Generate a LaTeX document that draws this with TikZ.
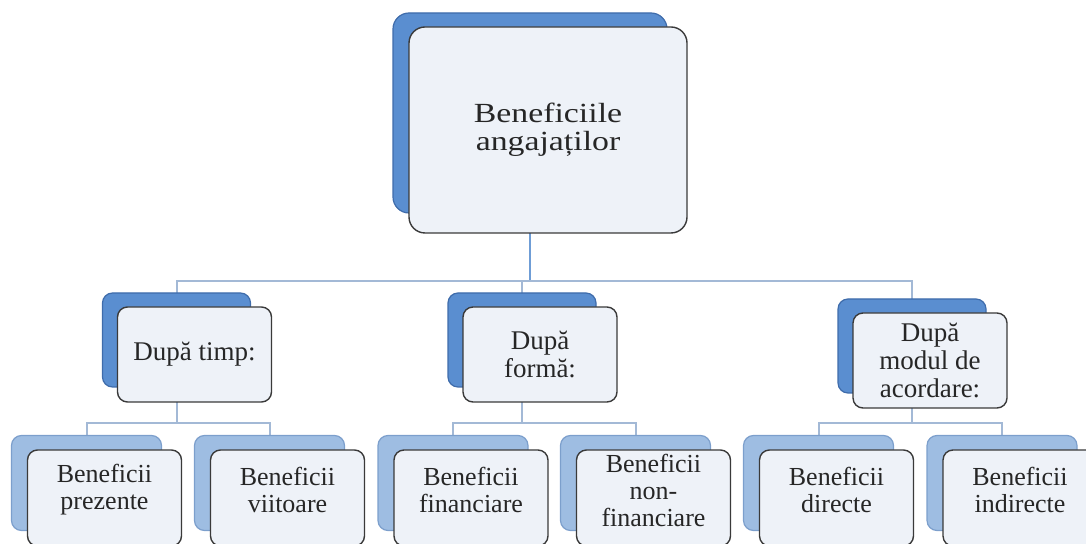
\documentclass[tikz,border=0pt]{standalone}
\usepackage{fontspec}
\setmainfont{Liberation Serif}
\newfontfamily\widefont[FakeStretch=1.22]{Liberation Serif}
\usetikzlibrary{backgrounds}
\definecolor{ink}{HTML}{262626}
\definecolor{boxline}{HTML}{3A3A3A}
\definecolor{paper}{HTML}{EEF2F8}
\definecolor{deep}{HTML}{5A8ED0}
\definecolor{deepedge}{HTML}{3F6CAB}
\definecolor{pale}{HTML}{9EBDE2}
\definecolor{paleedge}{HTML}{7C9FCC}
\definecolor{wire}{HTML}{A3B9D6}
\definecolor{stemblue}{HTML}{6F9DD6}

\begin{document}
\begin{tikzpicture}[x=0.5pt,y=-0.5pt,
  back/.style={rounded corners=5pt,fill=deep,draw=deepedge,line width=0.6pt,
               minimum width=74pt,minimum height=47pt,inner sep=0},
  backpale/.style={back,fill=pale,draw=paleedge,minimum width=75pt,minimum height=47.5pt},
  front/.style={rounded corners=5pt,fill=paper,draw=boxline,line width=0.7pt,
                minimum width=77pt,minimum height=47.5pt,inner sep=2pt,align=center,
                text=ink,font=\fontsize{13.5pt}{14pt}\selectfont},
  leaf/.style={front,minimum height=48pt},
  lbl/.style={align=center,text=ink,font=\fontsize{13pt}{13.5pt}\selectfont,yshift=4pt},
  link/.style={draw=wire,line width=1pt},
  stem/.style={draw=stemblue,line width=1.4pt}]
  \useasboundingbox (0,0) rectangle (1086,544);
  \coordinate (bus1) at (0,281);
  \coordinate (bus2) at (0,423);

  % root
  \node[back,minimum width=137pt,minimum height=100pt,rounded corners=8pt] (top-b) at (530,113) {};
  \node[front,minimum width=139pt,minimum height=103pt,rounded corners=8pt,
        font=\widefont\fontsize{13.85pt}{14pt}\selectfont] (top) at ([shift={(18,17)}]top-b.center) {Beneficiile\\angajaților};

  % criteria
  \node[back] (tim-b) at (176.5,340) {};
  \node[front] (tim) at ([shift={(18,14.5)}]tim-b.center) {După timp:};
  \node[back] (for-b) at (522,340) {};
  \node[front] (for) at ([shift={(18,14.5)}]for-b.center) {După\\formă:};
  \node[back] (mod-b) at (912,346) {};
  \node[front] (mod) at ([shift={(18,14.5)}]mod-b.center) {După\\modul de\\acordare:};

  % kinds of benefits
  \node[backpale] (pre-b) at (86.5,483) {};
  \node[leaf,label={[lbl]center:Beneficii\\prezente}] (pre) at ([shift={(18,15)}]pre-b.center) {};
  \node[backpale] (vii-b) at (269.5,483) {};
  \node[leaf,label={[lbl]center:Beneficii\\viitoare}] (vii) at ([shift={(18,15)}]vii-b.center) {};
  \node[backpale] (fin-b) at (453,483) {};
  \node[leaf,label={[lbl]center:Beneficii\\financiare}] (fin) at ([shift={(18,15)}]fin-b.center) {};
  \node[backpale] (non-b) at (635.5,483) {};
  \node[leaf,label={[lbl]center:Beneficii\\non-\\financiare}] (non) at ([shift={(18,15)}]non-b.center) {};
  \node[backpale] (dir-b) at (818.5,483) {};
  \node[leaf,label={[lbl]center:Beneficii\\directe}] (dir) at ([shift={(18,15)}]dir-b.center) {};
  \node[backpale] (ind-b) at (1002,483) {};
  \node[leaf,label={[lbl]center:Beneficii\\indirecte}] (ind) at ([shift={(18,15)}]ind-b.center) {};

  \begin{scope}[on background layer]
    \draw[stem] (top-b.center) -- (top-b.center |- bus1);
    \foreach \c in {tim,for,mod}
      \draw[link] (top-b.center |- bus1) -| (\c-b.center);
    \foreach \p/\a/\b in {tim/pre/vii,for/fin/non,mod/dir/ind} {
      \draw[link] (\p-b.center) -- (\p-b.center |- bus2) -| (\a-b.center);
      \draw[link] (\p-b.center |- bus2) -| (\b-b.center);
    }
  \end{scope}
\end{tikzpicture}
\end{document}
